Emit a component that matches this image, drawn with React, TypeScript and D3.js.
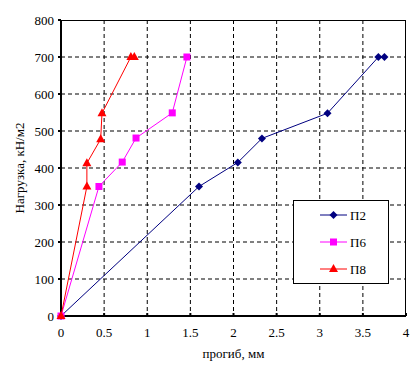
import React from "react";
import * as d3 from "d3";

const p2x = [0, 1.6, 2.05, 2.33, 3.09, 3.68, 3.75];
const p2y = [0, 350, 415, 480, 548, 700, 700];
const p6x = [0, 0.44, 0.71, 0.87, 1.29, 1.46];
const p6y = [0, 350, 416, 481, 549, 700];
const p8x = [0, 0.3, 0.3, 0.46, 0.475, 0.81, 0.85];
const p8y = [0, 350, 413, 478, 548, 700, 700];
const xTicks = [0, 0.5, 1, 1.5, 2, 2.5, 3, 3.5, 4];
const yTicks = [0, 100, 200, 300, 400, 500, 600, 700, 800];
const seriesNames = ["П2", "П6", "П8"];

const W = 420, H = 370;
const L = 61, R = 406, T = 20, B = 316;

export default function App() {
  const x = d3.scaleLinear().domain([0, 4]).range([L, R]);
  const y = d3.scaleLinear().domain([0, 800]).range([B, T]);
  const line = d3.line<[number, number]>().x(d => x(d[0])).y(d => y(d[1]));
  const series = [
    { name: seriesNames[0], xs: p2x, ys: p2y, color: "#000080", marker: "diamond" },
    { name: seriesNames[1], xs: p6x, ys: p6y, color: "#FF00FF", marker: "square" },
    { name: seriesNames[2], xs: p8x, ys: p8y, color: "#FF0000", marker: "triangle" },
  ];
  const marker = (m: string, cx: number, cy: number, color: string, key: any) => {
    if (m === "diamond") return <path key={key} d={`M${cx},${cy - 4}L${cx + 4},${cy}L${cx},${cy + 4}L${cx - 4},${cy}Z`} fill={color} />;
    if (m === "square") return <rect key={key} x={cx - 3.5} y={cy - 3.5} width={7} height={7} fill={color} />;
    return <path key={key} d={`M${cx},${cy - 5}L${cx + 4.5},${cy + 3}L${cx - 4.5},${cy + 3}Z`} fill={color} />;
  };
  const font = "'Liberation Serif', 'Times New Roman', serif";
  return (
    <svg width={W} height={H} style={{ position: "absolute", left: 0, top: 0, background: "#fff" }} fontFamily={font}>
      <rect x={0} y={0} width={W} height={H} fill="#fff" />
      {xTicks.slice(1, -1).map(t => (
        <line key={"gx" + t} x1={x(t)} x2={x(t)} y1={T} y2={B} stroke="#000" strokeDasharray="4,3" strokeWidth={1} />
      ))}
      {yTicks.slice(1, -1).map(t => (
        <line key={"gy" + t} x1={L} x2={R} y1={y(t)} y2={y(t)} stroke="#000" strokeDasharray="4,3" strokeWidth={1} />
      ))}
      <line x1={L} x2={R} y1={T + 0.5} y2={T + 0.5} stroke="#000" strokeWidth={1} />
      <line x1={R - 0.5} x2={R - 0.5} y1={T} y2={B} stroke="#000" strokeWidth={1} />
      <line x1={L} x2={L} y1={T} y2={B + 1} stroke="#000" strokeWidth={2} />
      <line x1={L - 1} x2={R} y1={B} y2={B} stroke="#000" strokeWidth={2} />
      {yTicks.map(t => (
        <g key={"ty" + t}>
          <line x1={L - 3} x2={L} y1={y(t)} y2={y(t)} stroke="#000" strokeWidth={2} />
          <text x={L - 7} y={y(t)} dy="0.35em" textAnchor="end" fontSize={13}>{t}</text>
        </g>
      ))}
      {xTicks.map(t => (
        <g key={"tx" + t}>
          <line x1={x(t)} x2={x(t)} y1={B - 3} y2={B} stroke="#000" strokeWidth={2} />
          <text x={x(t)} y={B + 21} textAnchor="middle" fontSize={13}>{t}</text>
        </g>
      ))}
      {series.map((s, i) => {
        const pts = s.xs.map((v, j) => [v, s.ys[j]] as [number, number]);
        return (
          <g key={"s" + i}>
            <path d={line(pts) || ""} fill="none" stroke={s.color} strokeWidth={1} />
            {pts.map((p, j) => marker(s.marker, x(p[0]), y(p[1]), s.color, j))}
          </g>
        );
      })}
      <text x={(L + R) / 2} y={358} textAnchor="middle" fontSize={13}>прогиб, мм</text>
      <text transform={`translate(24,${(T + B) / 2}) rotate(-90)`} textAnchor="middle" fontSize={13}>Нагрузка, кН/м2</text>
      <rect x={293.5} y={200.5} width={95} height={83} fill="#fff" stroke="#000" strokeWidth={1} />
      {series.map((s, i) => {
        const ly = 215 + i * 27;
        return (
          <g key={"lg" + i}>
            <line x1={320} x2={347} y1={ly} y2={ly} stroke={s.color} strokeWidth={1} />
            {marker(s.marker, 333.5, ly, s.color, "m")}
            <text x={350} y={ly} dy="0.35em" fontSize={13}>{s.name}</text>
          </g>
        );
      })}
    </svg>
  );
}
